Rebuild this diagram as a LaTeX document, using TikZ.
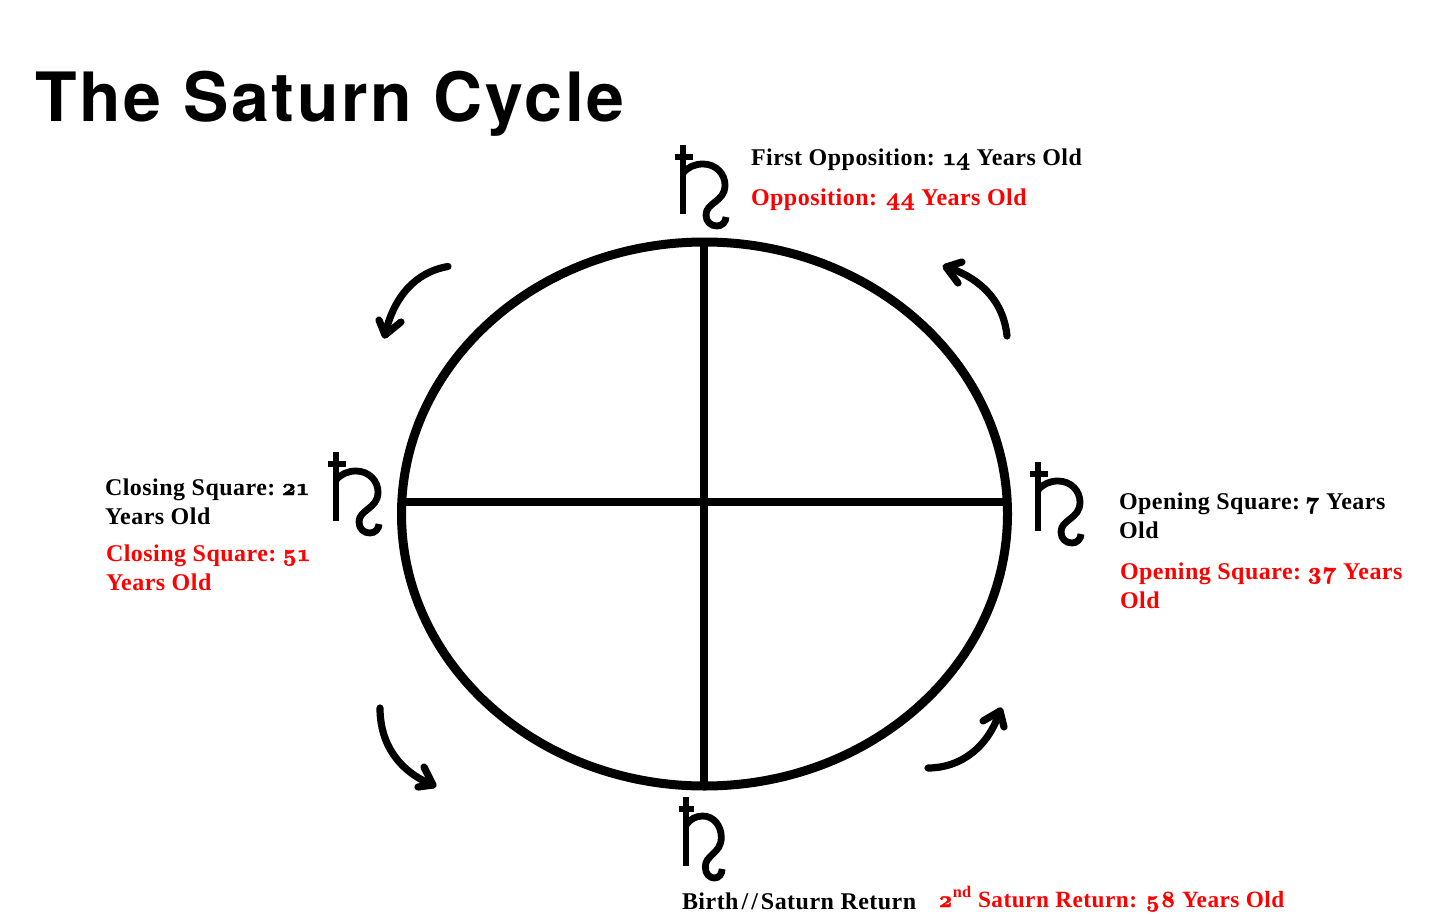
\documentclass[tikz,border=0pt]{standalone}
\usepackage{fontspec}
\setmainfont[LetterSpace=2]{Liberation Serif}
\newfontfamily\titlefont[LetterSpace=4]{TeX Gyre Heros}
\newfontfamily\osf[Extension=.otf,Numbers=OldStyle,FakeBold=1.6,LetterSpace=2]{lmroman10-bold}
\newcommand{\onum}[1]{{\osf\mdseries #1}}
\usetikzlibrary{shapes.geometric}
\tikzset{
  x=1pt,y=-1pt,
  heavy/.style={line width=8pt,draw=black},
  orbitline/.style={line width=9pt,draw=black},
  sat/.style={line width=6.8pt,draw=black},
  swoop/.style={line width=7.2pt,draw=black,line cap=round,line join=round},
  lab/.style={inner sep=0pt,outer sep=0pt,anchor=base west,font=\fontsize{24}{28}\selectfont\bfseries,align=left},
  blk/.style={lab,text=black},
  rdd/.style={lab,text=red},
  pics/saturn/.style={code={
    \draw[sat] (0,0) -- (0,69);
    \draw[sat] (-8.5,12) -- (10,12);
    \draw[sat] (0,28) .. controls (5,22) and (12,19) .. (20,19)
      .. controls (33,19) and (42,29) .. (42,40)
      .. controls (42,49) and (37,53) .. (32,57)
      .. controls (27,61) and (23,64) .. (23,70)
      .. controls (23,77) and (28,81) .. (34,81)
      .. controls (39,81) and (43,77) .. (43,72);
  }}
}
\begin{document}
\begin{tikzpicture}
\useasboundingbox (0,0) rectangle (1456,915);
\node[inner sep=0pt,anchor=base west,font=\fontsize{68}{80}\selectfont\titlefont\bfseries] (title) at (35,122) {The Saturn Cycle};
\node[ellipse,orbitline,minimum width=606pt,minimum height=544pt,inner sep=0pt] (orbit) at (704.5,514) {};
\coordinate (w) at (400,501.5); \coordinate (e) at (1008,501.5);
\coordinate (n) at (704,240); \coordinate (s) at (704,788);
\draw[heavy] (w) -- (e);
\draw[heavy] (n) -- (s);
\pic at (683,145) {saturn};
\pic at (336,452) {saturn};
\pic at (1038,462) {saturn};
\pic[xscale=0.84] at (686,797) {saturn};
\node[blk] (t1) at (751,165) {First Opposition: \onum{14} Years Old};
\node[rdd] (t2) at (751,205) {Opposition: \onum{44} Years Old};
\node[blk] (t3) at (105,495) {Closing Square:\hspace{-3pt} \onum{21}};
\node[blk] (t3b) at (105,524) {Years Old};
\node[rdd] (t4) at (106,561) {Closing Square:\hspace{-3pt} \onum{51}};
\node[rdd] (t4b) at (106,590) {Years Old};
\node[blk] (t5) at (1119,509) {Opening Square:\hspace{-3pt} \onum{7} Years};
\node[blk] (t5b) at (1119,538) {Old};
\node[rdd] (t6) at (1120,579) {Opening Square:\hspace{-3pt} \onum{37} Years};
\node[rdd] (t6b) at (1120,608) {Old};
\node[blk] (t7) at (682,909) {Birth\hspace{3pt}/\hspace{3pt}/\hspace{3pt}Saturn Return};
\node[rdd,font=\fontsize{23.3}{28}\selectfont\bfseries] (t8) at (938,907) {\onum{2}\textsuperscript{nd} Saturn Return: \onum{58} Years Old};
\draw[swoop] (448,266.5) .. controls (415,272) and (393,298) .. (385,335);
\draw[swoop] (379,320) -- (385,335) -- (401,322);
\draw[swoop] (1007,336) .. controls (1004,305) and (985,280) .. (947,267);
\draw[swoop] (962,262) -- (946,267) -- (958,283);
\draw[swoop] (380,708) .. controls (380,745) and (400,772) .. (433,785);
\draw[swoop] (424,767) -- (433,785) -- (418,787);
\draw[swoop] (928,768) .. controls (960,768) and (988,748) .. (1000,711);
\draw[swoop] (983,721) -- (1000,711) -- (1004,727);
\end{tikzpicture}
\end{document}
